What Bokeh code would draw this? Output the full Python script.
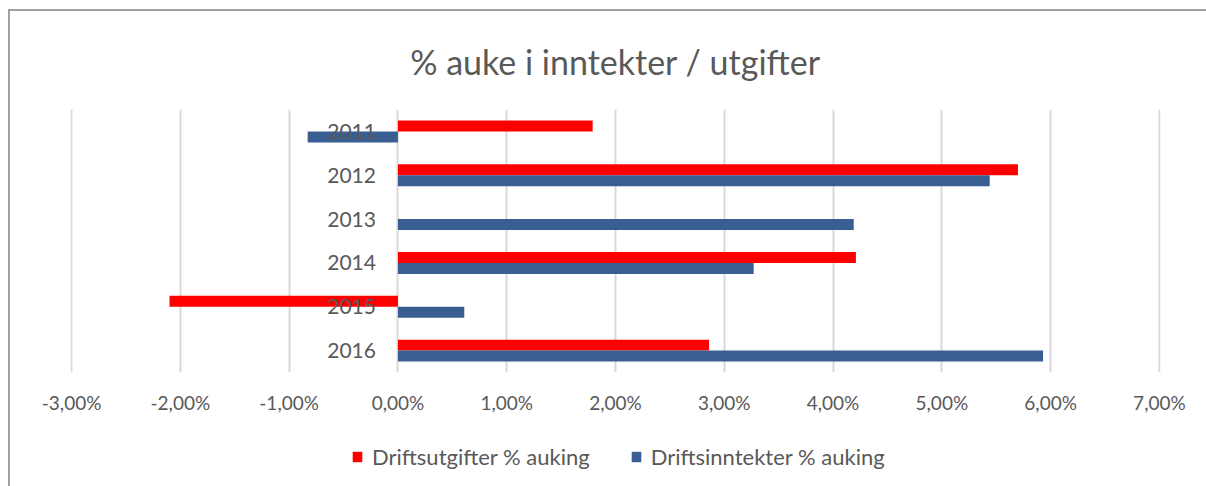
from bokeh.plotting import figure
from bokeh.layouts import column
from bokeh.models import Range1d, FactorRange, FixedTicker, Legend, LegendItem, ColumnDataSource
from bokeh.transform import dodge
from bokeh.core.properties import value
from bokeh.embed import file_html
from bokeh.resources import INLINE

# ---- data ----
years = ["2011", "2012", "2013", "2014", "2015", "2016"]
utgifter = [1.79, 5.70, 0.0, 4.21, -2.10, 2.86]      # Driftsutgifter % auking
inntekter = [-0.83, 5.44, 4.19, 3.27, 0.61, 5.93]    # Driftsinntekter % auking
series_names = ["Driftsutgifter % auking", "Driftsinntekter % auking"]
tick_values = [-3, -2, -1, 0, 1, 2, 3, 4, 5, 6, 7]
tick_labels = ["-3,00%", "-2,00%", "-1,00%", "0,00%", "1,00%", "2,00%",
               "3,00%", "4,00%", "5,00%", "6,00%", "7,00%"]
title_text = "% auke i inntekter / utgifter"

RED = "#FF0000"
BLUE = "#385E92"
TXT = "#595959"
FONT = "Lato"

src = ColumnDataSource(dict(year=years, utg=utgifter, inn=inntekter))

# ---- main chart ----
p = figure(width=1196, height=405, output_backend="svg", toolbar_location=None,
           x_range=Range1d(tick_values[0] - 0.01, tick_values[-1] + 0.01),
           y_range=FactorRange(factors=list(reversed(years))),
           min_border_left=60, min_border_right=46, min_border_top=97, min_border_bottom=44)

p.title.text = title_text
p.title.align = "center"
p.title.text_font = FONT
p.title.text_font_size = "34px"
p.title.text_font_style = "normal"
p.title.text_color = TXT
p.title.standoff = 55

p.outline_line_color = None
p.background_fill_color = "white"
p.border_fill_color = "white"

r1 = p.hbar(y=dodge("year", 0.125, range=p.y_range), left=0, right="utg", height=0.25,
            fill_color=RED, line_color=None, source=src)
r2 = p.hbar(y=dodge("year", -0.125, range=p.y_range), left=0, right="inn", height=0.25,
            fill_color=BLUE, line_color=None, source=src)

p.text(x=0, y="year", text="year", x_offset=-22, text_align="right", text_baseline="middle",
       text_font=value(FONT), text_font_size="21px", text_color=TXT, source=src)

p.yaxis.visible = False
p.ygrid.grid_line_color = None

p.xaxis.ticker = FixedTicker(ticks=tick_values)
p.xaxis.major_label_overrides = {v: l for v, l in zip(tick_values, tick_labels)}
p.xaxis.axis_line_color = None
p.xaxis.major_tick_line_color = None
p.xaxis.minor_tick_line_color = None
p.xaxis.major_label_text_font = FONT
p.xaxis.major_label_text_font_size = "19px"
p.xaxis.major_label_text_color = TXT
p.xaxis.major_label_standoff = 12
p.xgrid.ticker = FixedTicker(ticks=tick_values)
p.xgrid.grid_line_color = "#d9d9d9"
p.xgrid.grid_line_width = 2

# ---- legend strip (its frame clips the legend like the reference) ----
q = figure(width=1196, height=70, output_backend="svg", toolbar_location=None,
           x_range=Range1d(0, 1), y_range=Range1d(0, 1),
           min_border_left=0, min_border_right=0, min_border_top=0, min_border_bottom=16)
q.axis.visible = False
q.grid.grid_line_color = None
q.outline_line_color = None
q.border_fill_color = "white"
l1 = q.hbar(y="utg", left=0, right=0, height=0, fill_color=RED, line_color=None, source=src)
l2 = q.hbar(y="inn", left=0, right=0, height=0, fill_color=BLUE, line_color=None, source=src)

legend = Legend(items=[LegendItem(label=series_names[0], renderers=[l1]),
                       LegendItem(label=series_names[1], renderers=[l2])],
                orientation="horizontal", location=(281, 0),
                border_line_color=None, background_fill_alpha=0,
                glyph_width=12, glyph_height=13, label_standoff=9, spacing=40,
                label_text_font=FONT, label_text_font_size="22px", label_text_color=TXT,
                padding=0, margin=0)
q.add_layout(legend, "center")

layout = column(p, q, spacing=0)
layout.styles = {"margin-left": "8px", "margin-top": "9px",
                 "border-left": "2px solid #a0a0a0", "border-top": "2px solid #a0a0a0"}

open("out.html", "w").write(file_html(layout, INLINE))
